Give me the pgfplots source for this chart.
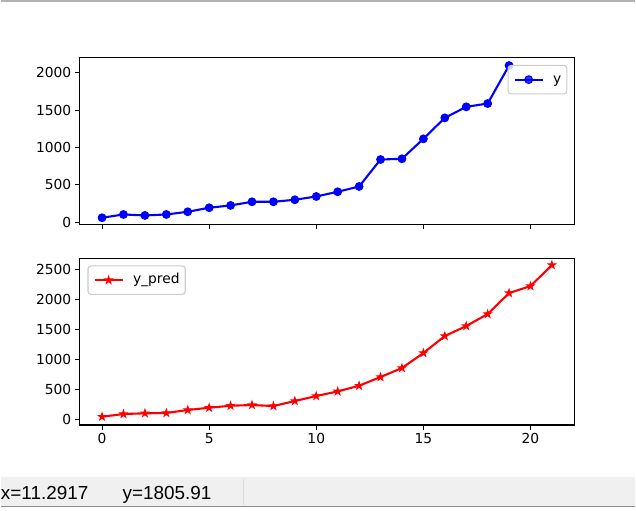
\documentclass[border=0pt]{standalone}
\usepackage{fontspec}
\setmainfont{DejaVu Sans}
\newfontfamily\uifont{Liberation Sans}
\usepackage{pgfplots}
\pgfplotsset{compat=1.18}
\definecolor{mblue}{RGB}{0,0,255}
\definecolor{mred}{RGB}{255,0,0}
\pgfdeclareplotmark{fstar}{%
  \pgfpathmoveto{\pgfpointpolar{90}{\pgfplotmarksize}}%
  \pgfpathlineto{\pgfpointpolar{126}{0.382\pgfplotmarksize}}%
  \pgfpathlineto{\pgfpointpolar{162}{\pgfplotmarksize}}%
  \pgfpathlineto{\pgfpointpolar{198}{0.382\pgfplotmarksize}}%
  \pgfpathlineto{\pgfpointpolar{234}{\pgfplotmarksize}}%
  \pgfpathlineto{\pgfpointpolar{270}{0.382\pgfplotmarksize}}%
  \pgfpathlineto{\pgfpointpolar{306}{\pgfplotmarksize}}%
  \pgfpathlineto{\pgfpointpolar{342}{0.382\pgfplotmarksize}}%
  \pgfpathlineto{\pgfpointpolar{18}{\pgfplotmarksize}}%
  \pgfpathlineto{\pgfpointpolar{54}{0.382\pgfplotmarksize}}%
  \pgfpathclose
  \pgfusepathqfillstroke}
\pgfplotsset{
  mplstyle/.style={
    anchor=south west, width=496bp, height=167bp, scale only axis,
    xmin=-1.05, xmax=22.05,
    xtick={0,5,10,15,20},
    tick align=outside, tick pos=left, major tick length=4.9bp,
    tick style={black, line width=1.1bp},
    axis line style={black, line width=1.1bp},
    /pgf/number format/assume math mode=true,
    /pgf/number format/1000 sep={},
    tick label style={font=\fontsize{13.9}{16}\selectfont},
    scaled ticks=false,
    legend cell align=left,
    legend style={draw=black!20, line width=1.1bp, rounded corners=3bp, fill=white, fill opacity=0.8, text opacity=1,
      font=\fontsize{13.9}{16}\selectfont, inner xsep=5.6bp, inner ysep=7.5bp,
      nodes={inner sep=0pt, text height=10.5bp, text depth=3bp},
      /tikz/every odd column/.append style={column sep=9.5bp}},
    legend image code/.code={\draw[mark repeat=2,mark phase=2] plot coordinates {(0bp,0bp) (14bp,0bp) (28bp,0bp)};},
  }
}
\begin{document}
\begin{tikzpicture}
\fill[white] (0bp,0bp) rectangle (636bp,512bp);
\draw[line width=1.5bp, black!30] (0bp,511bp) -- (636bp,511bp);
\fill[black!6] (0bp,4bp) rectangle (636bp,34bp);
\draw[black!45, line width=1bp] (0bp,4bp) -- (636bp,4bp);
\draw[black!15, line width=1bp] (243bp,6bp) -- (243bp,32bp);
\node[anchor=base west, font=\uifont\fontsize{19}{22}\selectfont, inner sep=0] at (0bp,11bp) {x=11.2917};
\node[anchor=base west, font=\uifont\fontsize{19}{22}\selectfont, inner sep=0] at (122bp,11bp) {y=1805.91};

\begin{axis}[mplstyle, at={(79bp,287bp)},
  ymin=-31, ymax=2201, ytick={0,500,1000,1500,2000}, xticklabels={},
  legend style={at={(0.986,0.958)}, anchor=north east}]
\addplot[mblue, line width=2.1bp, mark=*, mark size=3.9bp, mark options={solid, fill=mblue, draw=mblue, line width=1bp}] coordinates {
(0,59) (1,103) (2,90) (3,103) (4,139) (5,193) (6,224) (7,273) (8,273) (9,300)
(10,344) (11,407) (12,478) (13,839) (14,849) (15,1116) (16,1397) (17,1545) (18,1589) (19,2098)
};
\addlegendentry{y}
\end{axis}

\begin{axis}[mplstyle, at={(79bp,86bp)},
  ymin=-88, ymax=2690, ytick={0,500,1000,1500,2000,2500},
  legend style={at={(0.016,0.958)}, anchor=north west}]
\addplot[mred, line width=2.1bp, mark=fstar, mark size=3.8bp, mark options={solid, fill=mred, draw=mred, line width=1bp, line join=miter}] coordinates {
(0,50) (1,95) (2,107) (3,112) (4,162) (5,200) (6,233) (7,245) (8,228) (9,312)
(10,395) (11,472) (12,567) (13,712) (14,862) (15,1112) (16,1395) (17,1562) (18,1762) (19,2112)
(20,2228) (21,2578)
};
\addlegendentry{y\_pred}
\end{axis}
\end{tikzpicture}
\end{document}
